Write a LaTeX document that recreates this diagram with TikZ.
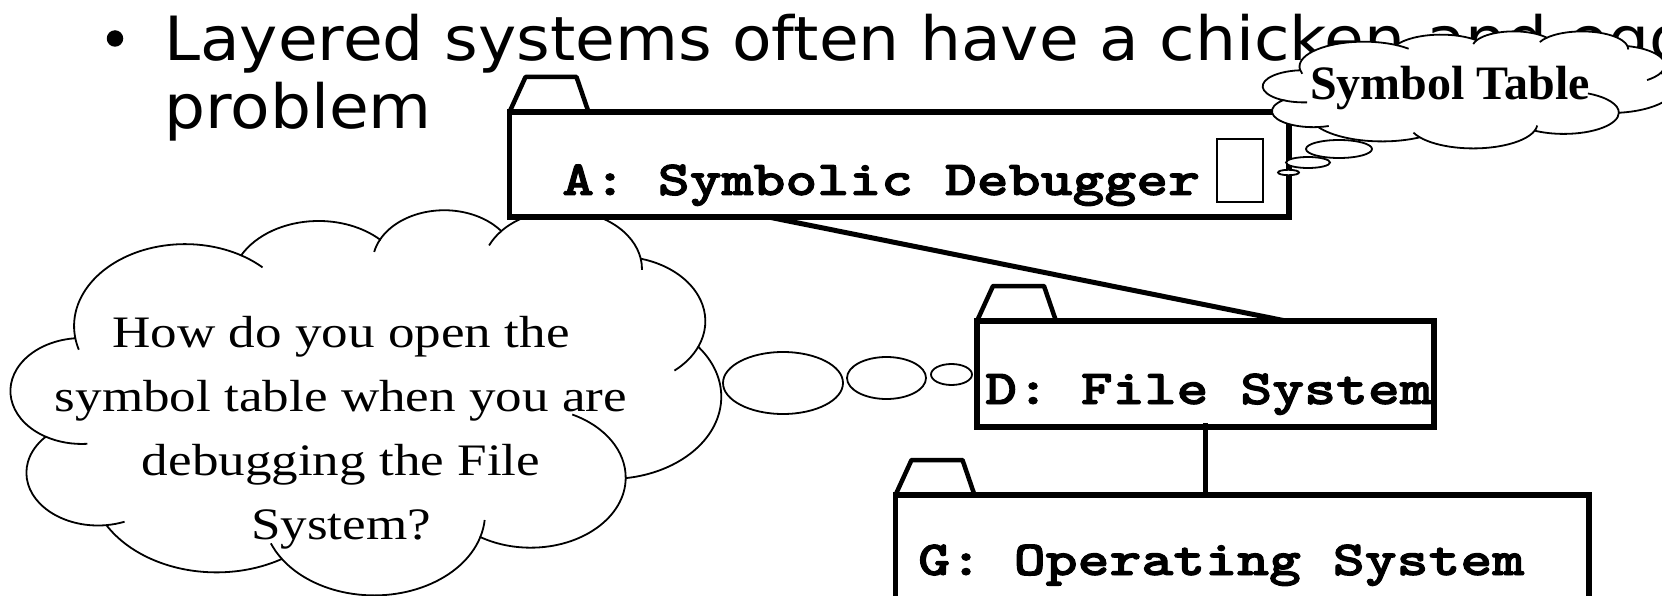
\documentclass[tikz,border=0pt]{standalone}
\usepackage{fontspec}
\usetikzlibrary{calc}
\newfontfamily\headfont[FakeStretch=1.06]{DejaVu Sans}
\newfontfamily\codefont{lmmonolt10-bold.otf}[FakeStretch=1.24, FakeBold=2]
\newfontfamily\labelfont{Liberation Serif}
\newfontfamily\thinkfont[FakeStretch=1.18]{Liberation Serif}

% cloud callout body, in a 432 x 432 box (y down)
\tikzset{
  cloudline/.style={line width=1.8pt},
  pics/pptcloud/.style={code={
      \draw[cloudline, fill=white] (39,143.70)
        \foreach \rx/\ry/\ta/\tb in {67.53/91.90/172.25/300.36, 53.33/72.67/207.98/314.55,
            43.65/59.45/206.51/322.67, 48.57/65.95/220.28/349.78, 53.33/72.73/-74.77/23.21,
            67.75/92.20/-37.51/81.86, 57.85/78.67/0.46/121.96, 67.52/92.15/16.84/146.21,
            77.20/105.43/58.97/150.18, 43.60/59.18/83.31/223.11, 43.45/59.45/120.36/264.11} {
          arc[start angle=\ta, end angle=\tb, x radius=\rx, y radius=\ry]
        } -- cycle;
      % 内侧小弧
      \foreach \cx/\cy/\rx/\ry/\ta/\tb in {43.08/204.20/43.45/59.45/85.54/120.36,
          52.95/295.93/43.60/59.18/68.23/83.31, 220.93/341.38/67.52/92.15/146.21/158.47,
          220.93/341.38/67.52/92.15/4.73/16.84, 316.17/301.34/57.85/78.67/-64.02/0.46,
          369.16/125.90/53.33/72.73/23.21/49.65, 335.37/67.42/48.57/65.95/-10.22/0.82,
          335.37/67.42/48.57/65.95/-156.29/-139.72, 263.61/60.83/43.65/59.45/-167.72/-153.49,
          105.91/131.31/67.53/91.90/-59.64/-45.73, 105.91/131.31/67.53/91.90/163.19/172.25} {
        \draw[cloudline] (\cx,\cy) ++({\rx*cos(\ta)},{\ry*sin(\ta)})
          arc[start angle=\ta, end angle=\tb, x radius=\rx, y radius=\ry];
      }
  }}
}

\begin{document}
\begin{tikzpicture}[x=1pt, y=-1pt,
    pkg/.style={draw, fill=white, line width=5.5pt, inner sep=0pt, outer sep=0pt},
    pkgtab/.style={line width=4.5pt, line join=round},
    link/.style={line width=5pt},
    pkgname/.style={font=\codefont\fontsize{49}{60}\selectfont, anchor=base west, inner sep=0pt},
    bubble/.style={cloudline, fill=white}]
  \useasboundingbox (0,0) rectangle (1662,596);
  \clip (0,0) rectangle (1662,596);

  % bullet line
  \node[circle, fill, inner sep=0pt, minimum size=16.5] (dot) at (115,38.5) {};
  \node[font=\headfont\fontsize{61}{68}\selectfont, align=left, anchor=north west, inner sep=0pt]
    (title) at (164,13.6) {Layered systems often have a chicken and egg\\problem};

  % 思考云
  \pic (askcloud) [xscale=1.6435, yscale=0.8912] at (11,209) {pptcloud};
  \foreach \x/\y/\rx/\ry in {783/383/60/31, 886.5/378/39.5/21, 951.5/374.5/20.5/10.5} {
    \draw[bubble] (\x,\y) ellipse[x radius=\rx, y radius=\ry];
  }
  \node[font=\thinkfont\fontsize{45}{64}\selectfont, align=center, inner sep=0pt]
    (question) at (341,433) {How do you open the\\symbol table when you are\\debugging the File\\System?};

  % packages
  \node[pkg, minimum width=779.5, minimum height=105] (pkgA) at (899.25,164.5) {};
  \node[pkg, minimum width=457, minimum height=106] (pkgD) at (1205.5,374) {};
  \node[pkg, minimum width=693.5, minimum height=106] (pkgG) at (1242.25,548) {};
  \foreach \p in {pkgA, pkgD, pkgG} {
    \draw[pkgtab] (\p.north west) -- ++(16,-35) -- ++(51,0) -- ++(12,35);
  }

  % links
  \draw[link] ($(pkgA.south west)!0.332!(pkgA.south east)$) -- ($(pkgD.north west)!0.676!(pkgD.north east)$);
  \draw[link] ($(pkgD.south)+(0,-4)$) -- (pkgD.south |- pkgG.north);

  \node[pkgname] (nameA) at (562,195) {A: Symbolic Debugger};
  \node[pkgname] (nameD) at (985,404) {D: File System};
  \node[pkgname] (nameG) at (918,575) {G: Operating System};
  \node[draw, line width=1.5pt, inner sep=0pt, minimum width=46, minimum height=63] (blankglyph) at (1240,170.5) {};

  % Symbol Table cloud
  \pic (symcloud) [xscale=0.9514, yscale=0.2708] at (1263,31) {pptcloud};
  \foreach \x/\y/\rx/\ry in {1339/149/33/9, 1308/162.5/22/5.5, 1288.5/172.5/10.5/2.7} {
    \draw[bubble] (\x,\y) ellipse[x radius=\rx, y radius=\ry];
  }
  \node[font=\labelfont\bfseries\fontsize{48}{56}\selectfont, anchor=base, inner sep=0pt]
    (symtab) at (1450,100) {Symbol Table};
\end{tikzpicture}
\end{document}
